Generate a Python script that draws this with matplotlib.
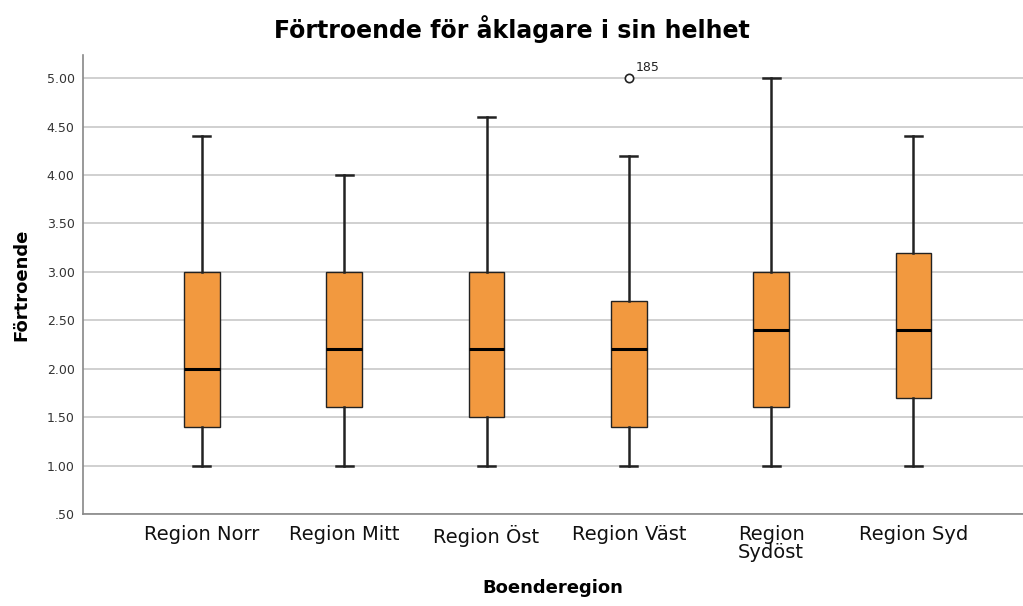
import numpy as np
import matplotlib.pyplot as plt

regions = ['Region Norr', 'Region Mitt', 'Region Öst', 'Region Väst', 'Region\nSydöst', 'Region Syd']
q1 = [1.4, 1.6, 1.5, 1.4, 1.6, 1.7]
med = [2.0, 2.2, 2.2, 2.2, 2.4, 2.4]
q3 = [3.0, 3.0, 3.0, 2.7, 3.0, 3.2]
wlo = [1.0, 1.0, 1.0, 1.0, 1.0, 1.0]
whi = [4.4, 4.0, 4.6, 4.2, 5.0, 4.4]
outliers = [[], [], [], [5.0], [], []]
outlier_ids = [[], [], [], ['185'], [], []]

stats = []
for i in range(len(regions)):
    stats.append(dict(med=med[i], q1=q1[i], q3=q3[i], whislo=wlo[i], whishi=whi[i],
                      fliers=outliers[i], label=regions[i]))

fig = plt.figure(figsize=(10.23, 6.06), dpi=100)
ax = fig.add_axes([83/1023, 1 - 514/606, 1 - 83/1023, (514 - 55)/606])

pos = np.arange(len(regions))
ax.bxp(stats, positions=pos, widths=0.25, patch_artist=True,
       boxprops=dict(facecolor='#F2993F', edgecolor='#222222', linewidth=1.0),
       medianprops=dict(color='black', linewidth=2.2),
       whiskerprops=dict(color='#222222', linewidth=1.8),
       capprops=dict(color='#222222', linewidth=1.8),
       capwidths=0.12,
       flierprops=dict(marker='o', markerfacecolor='white', markeredgecolor='#222222',
                       markersize=6, markeredgewidth=1.2),
       zorder=3)

for i in range(len(regions)):
    for v, lab in zip(outliers[i], outlier_ids[i]):
        ax.annotate(lab, (pos[i], v), xytext=(5, 5), textcoords='offset points',
                    fontsize=9, color='#222222')

ax.set_xlim(-0.836, 5.77)
ax.set_ylim(0.5, 5.24)
ax.set_yticks(np.arange(0.5, 5.01, 0.5))
ax.set_yticklabels(['.50'] + ['%.2f' % v for v in np.arange(1.0, 5.01, 0.5)], fontsize=9, color='#333333')
ax.set_xticks(pos)
ax.set_xticklabels(regions, fontsize=14, color='#111111', linespacing=0.95)
ax.tick_params(axis='both', length=0, pad=6)
ax.tick_params(axis='x', pad=8)
ax.yaxis.grid(True, color='#c8c8c8', linewidth=1.2, zorder=0)
ax.set_axisbelow(True)
for s in ['top', 'right']:
    ax.spines[s].set_visible(False)
for s in ['left', 'bottom']:
    ax.spines[s].set_color('#888888')
    ax.spines[s].set_linewidth(1.2)

ax.set_xlabel('Boenderegion', fontsize=13, fontweight='bold', labelpad=12)
ax.set_ylabel('Förtroende', fontsize=13, fontweight='bold', labelpad=12)
fig.suptitle('Förtroende för åklagare i sin helhet', fontsize=17, fontweight='bold', y=0.975)

fig.savefig('out.png', dpi=100)
